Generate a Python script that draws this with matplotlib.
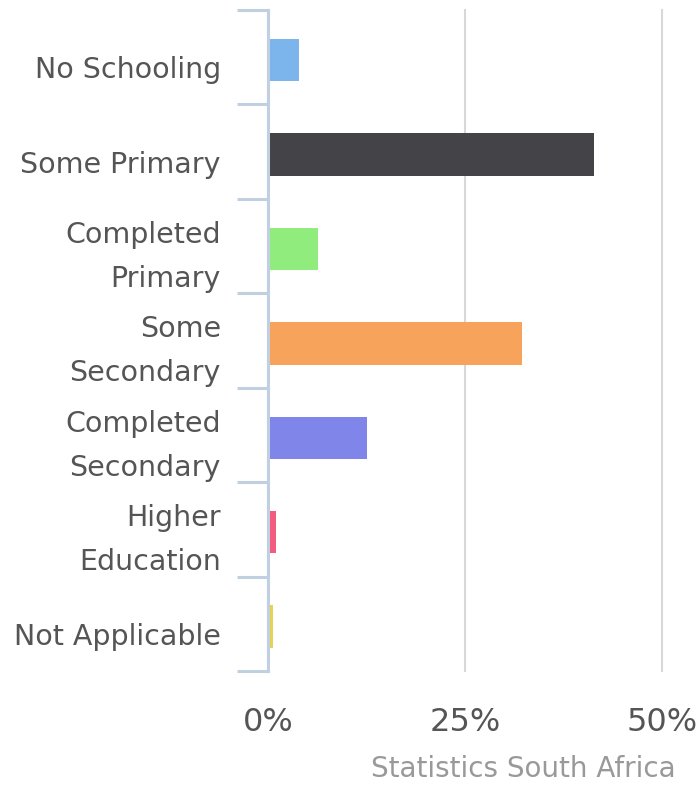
import matplotlib
matplotlib.use("Agg")
import matplotlib.pyplot as plt
import matplotlib.transforms as mtransforms
from matplotlib.ticker import FuncFormatter

categories = ["No Schooling", "Some Primary", "Completed\nPrimary", "Some\nSecondary",
              "Completed\nSecondary", "Higher\nEducation", "Not Applicable"]
shares = [3.9, 41.4, 6.3, 32.2, 12.6, 1.0, 0.6]
colors = ["#7cb5ec", "#434348", "#90ed7d", "#f7a35c", "#8085e9", "#f15c80", "#e4d354"]
x_ticks = [0, 25, 50]

plt.rcParams['font.family'] = ['DejaVu Sans']

fig = plt.figure(figsize=(6.99, 7.86), dpi=100)
ax = fig.add_axes([0.3834, 0.1463, 0.5636, 0.841])

pos = list(range(len(categories)))
ax.barh([p + 0.03 for p in pos], shares, height=0.45, color=colors, zorder=3)
ax.set_ylim(len(categories) - 0.5, -0.5)
ax.set_xlim(0, 50)

# category labels sit between the boundary ticks; one-line labels sit a bit lower
ax.set_yticks(pos)
ax.set_yticklabels(categories, fontsize=20.5, color="#555555", linespacing=1.72)
ax.tick_params(axis="y", length=0, pad=34)
shift = mtransforms.ScaledTranslation(0, -0.10, fig.dpi_scale_trans)
for lab in ax.get_yticklabels():
    if "\n" not in lab.get_text():
        lab.set_transform(lab.get_transform() + shift)
ax.set_yticks([p - 0.5 for p in range(len(categories) + 1)], minor=True)
ax.tick_params(axis="y", which="minor", length=22, width=2.2, color="#c0d0e0")

ax.set_xticks(x_ticks)
ax.xaxis.set_major_formatter(FuncFormatter(lambda v, _: f"{v:.0f}%"))
ax.tick_params(axis="x", length=0, pad=26, labelsize=23, labelcolor="#555555")
ax.grid(axis="x", color="#d8d8d8", linewidth=1.5, zorder=0)
for gl in ax.xaxis.get_gridlines():
    gl.set_clip_on(False)

for side in ["top", "right", "bottom"]:
    ax.spines[side].set_visible(False)
ax.spines["left"].set_color("#c0d0e0")
ax.spines["left"].set_linewidth(2.2)
ax.spines["left"].set_zorder(4)

fig.text(0.748, 0.004, "Statistics South Africa", ha="center", va="bottom",
         fontsize=20, color="#999999")

fig.savefig("out.png", dpi=100, facecolor="white")
